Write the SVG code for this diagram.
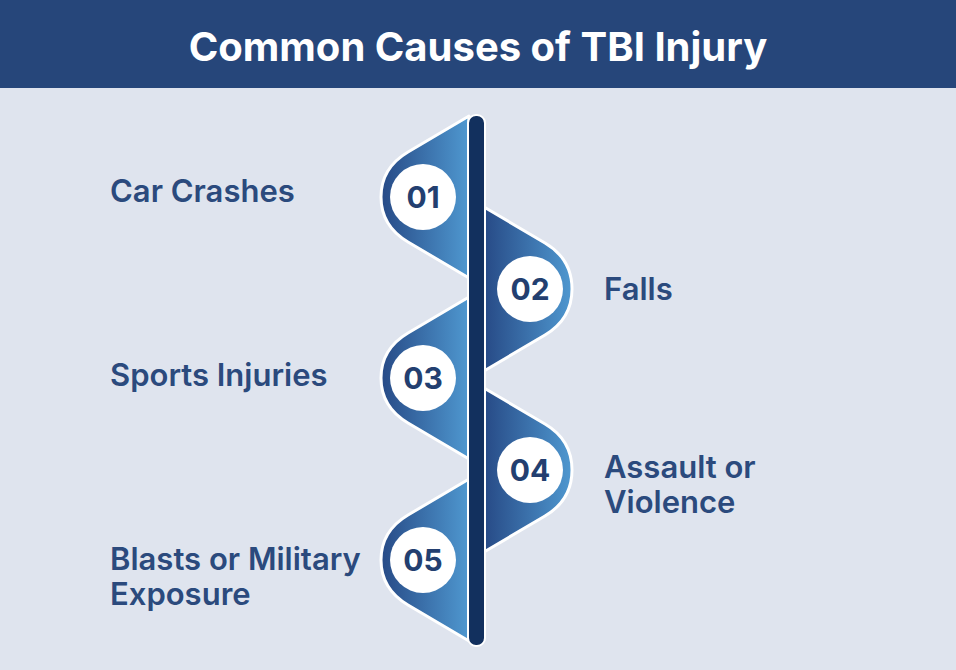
<svg xmlns="http://www.w3.org/2000/svg" width="956" height="670" viewBox="0 0 956 670">
<defs>
<linearGradient id="gl" x1="0" x2="1" y1="0" y2="0"><stop offset="0" stop-color="#274a86"/><stop offset="1" stop-color="#4f98d0"/></linearGradient>
<linearGradient id="gr" x1="0" x2="1" y1="0" y2="0"><stop offset="0" stop-color="#274a86"/><stop offset="1" stop-color="#4f98d0"/></linearGradient>
<style>
.tab{stroke:#ffffff;stroke-width:3;stroke-linejoin:round}
.l{fill:url(#gl)} .r{fill:url(#gr)}
.c{fill:#fff}
.n{font-family:Inter,"Noto Sans",sans-serif;font-weight:700;font-size:30px;fill:#233f70;text-anchor:middle}
.t{font-family:Inter,"Noto Sans",sans-serif;font-weight:600;font-size:31px;fill:#2b4a7d}
</style>
</defs>
<rect width="956" height="670" fill="#dfe4ee"/>
<rect width="956" height="88" fill="#26467a"/>
<text x="478" y="61" text-anchor="middle" font-family="Inter,'Noto Sans',sans-serif" font-weight="700" font-size="40" fill="#fff">Common Causes of TBI Injury</text>
<g id="tab1"><path class="tab l" d="M469,116 L408,152 Q381,168 381,197 Q381,226 408,242 L469,278 Z"/><circle class="c" cx="423" cy="197" r="33"/><text class="n" x="423" y="208">01</text></g>
<g id="tab2"><path class="tab r" d="M484,207 L545,243 Q572,259 572,289 Q572,319 545,335 L484,371 Z"/><circle class="c" cx="530" cy="289" r="33"/><text class="n" x="530" y="300">02</text></g>
<g id="tab3"><path class="tab l" d="M469,297 L408,333 Q381,349 381,378 Q381,407 408,423 L469,459 Z"/><circle class="c" cx="423" cy="378" r="33"/><text class="n" x="423" y="389">03</text></g>
<g id="tab4"><path class="tab r" d="M484,388 L545,424 Q572,440 572,470 Q572,500 545,516 L484,552 Z"/><circle class="c" cx="530" cy="470" r="33"/><text class="n" x="530" y="481">04</text></g>
<g id="tab5"><path class="tab l" d="M469,479 L408,515 Q381,531 381,560 Q381,589 408,605 L469,641 Z"/><circle class="c" cx="423" cy="560" r="33"/><text class="n" x="423" y="571">05</text></g>
<g id="spine"><rect x="468" y="115" width="17" height="531" rx="8" fill="#12305e" stroke="#fff" stroke-width="2"/></g>
<g id="labels">
<text class="t" x="110" y="202">Car Crashes</text>
<text class="t" x="604" y="300">Falls</text>
<text class="t" x="110" y="386">Sports Injuries</text>
<text class="t" x="604" y="478">Assault or</text>
<text class="t" x="604" y="513">Violence</text>
<text class="t" x="110" y="570">Blasts or Military</text>
<text class="t" x="110" y="605">Exposure</text>
</g>
<g id="connectors"/>
</svg>
